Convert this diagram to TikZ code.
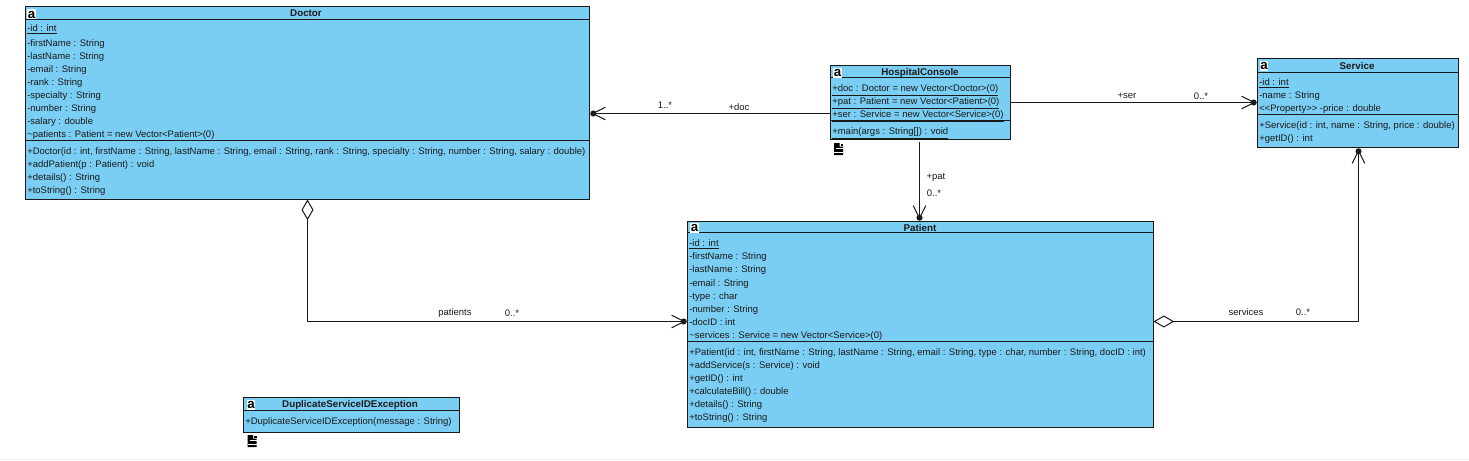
\documentclass[tikz,border=0pt]{standalone}
\usepackage{fontspec}
\setmainfont{Liberation Sans}
\usetikzlibrary{arrows.meta}

\definecolor{classblue}{RGB}{122,206,244}
\definecolor{inkgrey}{RGB}{26,26,26}
\definecolor{edgegrey}{RGB}{240,240,240}

\tikzset{
    classbox/.style={draw=inkgrey,fill=classblue,line width=0.75pt,anchor=north west,inner sep=0pt,outer sep=0pt,xshift=0.375pt,yshift=-0.375pt},
    classline/.style={draw=inkgrey,line width=0.75pt,yshift=-0.375pt},
    member/.style={font=\fontsize{7.12}{8}\selectfont,text=inkgrey,anchor=west,inner sep=0pt,text height=5pt,text depth=1.5pt,yshift=-0.6pt},
    classname/.style={font=\fontsize{7.35}{8}\selectfont\bfseries,text=inkgrey,inner sep=0pt},
    linklabel/.style={font=\fontsize{7.12}{8}\selectfont,text=inkgrey,inner sep=0pt},
    classicon/.style={font=\fontsize{10}{10}\selectfont\bfseries,fill=white,inner sep=0pt,minimum width=6.5pt,minimum height=7.5pt},
    linkline/.style={draw=inkgrey,line width=0.75pt},
    navend/.style={-{Straight Barb[length=9.5pt,width=9.5pt,sep=-3.5pt]Circle[length=4.5pt]},shorten >=0.6pt},
    sharenavend/.style={{Diamond[open,fill=white,length=15.5pt,width=9pt]}-{Straight Barb[length=9.5pt,width=9.5pt,sep=-3.5pt]Circle[length=4.5pt]},shorten >=0.6pt},
    docicon/.pic={
        \fill[black] (-4.5,-6) -- (1,-6) -- (1,-2.5) -- (4.5,-2.5) -- (4.5,6) -- (-4.5,6) -- cycle;
        \fill[black] (2,-5) rectangle (4.5,-3.5);
        \fill[white] (-2.5,-1.5) rectangle (4.5,0);
        \fill[white] (-4.5,2.5) rectangle (4.5,3.8);
    }
}

\begin{document}
\begin{tikzpicture}[x=0.75pt,y=0.75pt,yscale=-1,xscale=1]
        \useasboundingbox (0,0) rectangle (1469,460);
        \fill[edgegrey] (0,458.5) rectangle (1469,460);

        %Class Doctor
        \draw (25,6) node (doctor) [classbox,minimum width=423pt,minimum height=144.75pt] {};
        \draw[classline] (doctor.west |- 0,20) -- (doctor.east |- 0,20);
        \draw[classline] (doctor.west |- 0,141) -- (doctor.east |- 0,141);
        \draw (31.5,14.5) node (doctorIcon) [classicon] {a};
        \draw (306,13.5) node (doctorName) [classname] {Doctor};
        % Text Node
        \draw (27,28) node (doctorId) [member] {\underline{-id : int}};
        \draw (27,43) node (doctorFirst) [member] {-firstName : String};
        \draw (27,56) node (doctorLast) [member] {-lastName : String};
        \draw (27,69) node (doctorEmail) [member] {-email : String};
        \draw (27,82) node (doctorRank) [member] {-rank : String};
        \draw (27,95) node (doctorSpecialty) [member] {-specialty : String};
        \draw (27,108) node (doctorNumber) [member] {-number : String};
        \draw (27,121) node (doctorSalary) [member] {-salary : double};
        \draw (27,134) node (doctorPatients) [member] {\textasciitilde patients : Patient = new Vector<Patient>(0)};
        \draw (27,151) node (doctorCtor) [member] {+Doctor(id : int, firstName : String, lastName : String, email : String, rank : String, specialty : String, number : String, salary : double)};
        \draw (27,164) node (doctorAdd) [member] {+addPatient(p : Patient) : void};
        \draw (27,177) node (doctorDetails) [member] {+details() : String};
        \draw (27,190) node (doctorToString) [member] {+toString() : String};

        %Class HospitalConsole
        \draw (830,65) node (console) [classbox,minimum width=135pt,minimum height=55.5pt] {};
        \draw[classline] (console.west |- 0,78) -- (console.east |- 0,78);
        \draw[classline] (console.west |- 0,121) -- (console.east |- 0,121);
        \draw (837.5,73) node (consoleIcon) [classicon] {a};
        \draw (920,72.5) node (consoleName) [classname] {HospitalConsole};
        % Text Node
        \draw (832,88) node (consoleDoc) [member] {\underline{+doc : Doctor = new Vector<Doctor>(0)}};
        \draw (832,101) node (consolePat) [member] {\underline{+pat : Patient = new Vector<Patient>(0)}};
        \draw (832,114) node (consoleSer) [member] {\underline{+ser : Service = new Vector<Service>(0)}};
        \draw (832,131) node (consoleMain) [member] {\underline{+main(args : String[]) : void}};
        \path (838.5,149) pic[yscale=-1] {docicon};

        %Class Service
        \draw (1257,58) node (service) [classbox,minimum width=150.75pt,minimum height=66.75pt] {};
        \draw[classline] (service.west |- 0,73) -- (service.east |- 0,73);
        \draw[classline] (service.west |- 0,115) -- (service.east |- 0,115);
        \draw (1264,66) node (serviceIcon) [classicon] {a};
        \draw (1357,65.5) node (serviceName) [classname] {Service};
        % Text Node
        \draw (1259,82) node (serviceId) [member] {\underline{-id : int}};
        \draw (1259,95) node (serviceLabel) [member] {-name : String};
        \draw (1259,108) node (servicePrice) [member] {<{}<Property>{}> -price : double};
        \draw (1259,125) node (serviceCtor) [member] {+Service(id : int, name : String, price : double)};
        \draw (1259,138) node (serviceGet) [member] {+getID() : int};

        %Class Patient
        \draw (687,221) node (patient) [classbox,minimum width=349.5pt,minimum height=154.5pt] {};
        \draw[classline] (patient.west |- 0,233) -- (patient.east |- 0,233);
        \draw[classline] (patient.west |- 0,342) -- (patient.east |- 0,342);
        \draw (694.5,228) node (patientIcon) [classicon] {a};
        \draw (920,228) node (patientName) [classname] {Patient};
        % Text Node
        \draw (689,243) node (patientId) [member] {\underline{-id : int}};
        \draw (689,256) node (patientFirst) [member] {-firstName : String};
        \draw (689,269) node (patientLast) [member] {-lastName : String};
        \draw (689,283) node (patientEmail) [member] {-email : String};
        \draw (689,296) node (patientType) [member] {-type : char};
        \draw (689,309) node (patientNumber) [member] {-number : String};
        \draw (689,322) node (patientDocId) [member] {-docID : int};
        \draw (689,335) node (patientServices) [member] {\textasciitilde services : Service = new Vector<Service>(0)};
        \draw (689,352) node (patientCtor) [member] {+Patient(id : int, firstName : String, lastName : String, email : String, type : char, number : String, docID : int)};
        \draw (689,365) node (patientAdd) [member] {+addService(s : Service) : void};
        \draw (689,378) node (patientGet) [member] {+getID() : int};
        \draw (689,391) node (patientBill) [member] {+calculateBill() : double};
        \draw (689,404) node (patientDetails) [member] {+details() : String};
        \draw (689,417) node (patientToString) [member] {+toString() : String};

        %Class DuplicateServiceIDException
        \draw (243,397) node (duplicate) [classbox,minimum width=162pt,minimum height=26.25pt] {};
        \draw[classline] (duplicate.west |- 0,411) -- (duplicate.east |- 0,411);
        \draw (251,405) node (duplicateIcon) [classicon] {a};
        \draw (350,405) node (duplicateName) [classname] {DuplicateServiceIDException};
        % Text Node
        \draw (245,421) node (duplicateCtor) [member] {+DuplicateServiceIDException(message : String)};
        \path (252,441) pic[yscale=-1] {docicon};

        %Connectors
        \coordinate (docKnee) at (307.5,321.5);
        \coordinate (serKnee) at (1358.5,321.5);
        \coordinate (docLevel) at (700,113.5);
        \coordinate (serLevel) at (1100,102.5);
        \coordinate (patLevel) at (919.5,142);
        \draw[linkline,sharenavend] (doctor.south -| docKnee) -- (docKnee) -- (patient.west |- docKnee);
        \draw[linkline,sharenavend] (patient.east |- serKnee) -- (serKnee) -- (service.south -| serKnee);
        \draw[linkline,navend] (console.west |- docLevel) -- (doctor.east |- docLevel);
        \draw[linkline,navend] (console.east |- serLevel) -- (service.west |- serLevel);
        \draw[linkline,navend] (patLevel) -- (patient.north -| patLevel);

        % Text Node
        \draw (665,105) node (docMult) [linklabel] {1..*};
        \draw (739,107) node (docRole) [linklabel] {+doc};
        \draw (1127,96) node (serRole) [linklabel] {+ser};
        \draw (1201,96) node (serMult) [linklabel] {0..*};
        \draw (936,177) node (patRole) [linklabel] {+pat};
        \draw (934,193) node (patMult) [linklabel] {0..*};
        \draw (455,313) node (patientsRole) [linklabel] {patients};
        \draw (512,313) node (patientsMult) [linklabel] {0..*};
        \draw (1246,312) node (servicesRole) [linklabel] {services};
        \draw (1303,312) node (servicesMult) [linklabel] {0..*};
    \end{tikzpicture}
\end{document}
